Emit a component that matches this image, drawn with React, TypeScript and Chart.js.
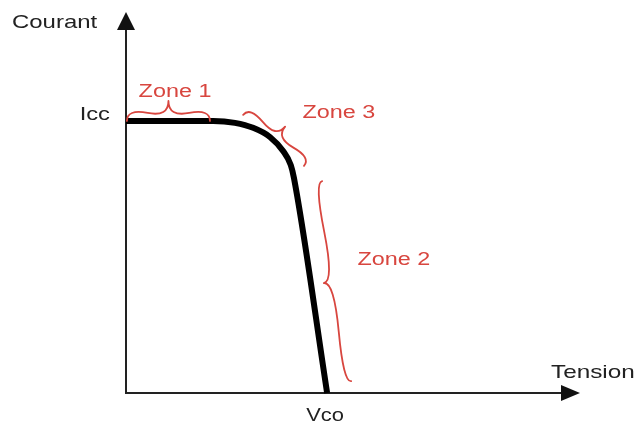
import React, { useEffect, useRef } from "react";
import { Chart, registerables } from "chart.js";

Chart.register(...registerables);

// I-V curve (schematic units)
const voltage = [0, 19.2, 24.0, 28.0, 31.7, 34.6, 36.3, 37.0, 44.3];
const current = [71.4, 71.4, 70.9, 69.6, 67.2, 63.5, 59.8, 56.4, 0];

// Characteristic values and labels
const ICC = 71.4;
const VCO = 44.3;
const yTickLabel = "Icc";
const xTickLabel = "Vco";
const yAxisTitle = "Courant";
const xAxisTitle = "Tension";

// Zone annotations (data units): brace start, brace end, label anchor
const zoneNames = ["Zone 1", "Zone 3", "Zone 2"];
const zoneStart = [
  [0.2, 71.4],
  [25.8, 73.0],
  [43.2, 55.6],
];
const zoneEnd = [
  [18.5, 71.4],
  [39.2, 59.6],
  [49.6, 3.1],
];
const zoneLabelAt = [
  [10.8, 79.0],
  [46.9, 73.5],
  [59.0, 34.9],
];

const AXIS_COLOR = "#222";
const RED = "#d8463f";
const FONT = '"Liberation Sans", Arial, sans-serif';

function stretchText(
  ctx: CanvasRenderingContext2D,
  text: string,
  x: number,
  y: number,
  align: CanvasTextAlign,
  sx: number
) {
  ctx.save();
  ctx.translate(x, y);
  ctx.scale(sx, 1);
  ctx.textAlign = align;
  ctx.textBaseline = "middle";
  ctx.fillText(text, 0, 0);
  ctx.restore();
}

function brace(
  ctx: CanvasRenderingContext2D,
  x1: number,
  y1: number,
  x2: number,
  y2: number,
  w: number,
  q = 0.6
) {
  let dx = x1 - x2;
  let dy = y1 - y2;
  const len = Math.sqrt(dx * dx + dy * dy);
  dx /= len;
  dy /= len;
  const qx1 = x1 + q * w * dy;
  const qy1 = y1 - q * w * dx;
  const qx2 = x1 - 0.25 * len * dx + (1 - q) * w * dy;
  const qy2 = y1 - 0.25 * len * dy - (1 - q) * w * dx;
  const tx1 = x1 - 0.5 * len * dx + w * dy;
  const ty1 = y1 - 0.5 * len * dy - w * dx;
  const qx3 = x2 + q * w * dy;
  const qy3 = y2 - q * w * dx;
  const qx4 = x1 - 0.75 * len * dx + (1 - q) * w * dy;
  const qy4 = y1 - 0.75 * len * dy - (1 - q) * w * dx;
  const c1x = 2 * qx2 - qx1;
  const c1y = 2 * qy2 - qy1;
  const c2x = 2 * qx4 - qx3;
  const c2y = 2 * qy4 - qy3;
  ctx.beginPath();
  ctx.moveTo(x1, y1);
  ctx.quadraticCurveTo(qx1, qy1, qx2, qy2);
  ctx.quadraticCurveTo(c1x, c1y, tx1, ty1);
  ctx.moveTo(x2, y2);
  ctx.quadraticCurveTo(qx3, qy3, qx4, qy4);
  ctx.quadraticCurveTo(c2x, c2y, tx1, ty1);
  ctx.stroke();
}

const braceDepth = [-20, -18, 13];

const decorPlugin = {
  id: "decor",
  beforeDatasetsDraw(chart: any) {
    const ctx: CanvasRenderingContext2D = chart.ctx;
    const xs = chart.scales.x;
    const ys = chart.scales.y;
    const x0 = xs.getPixelForValue(0);
    const y0 = ys.getPixelForValue(0);
    const xMax = xs.getPixelForValue(xs.max);
    const yMax = ys.getPixelForValue(ys.max);
    ctx.save();
    ctx.strokeStyle = AXIS_COLOR;
    ctx.fillStyle = "#111";
    ctx.lineWidth = 2;
    ctx.beginPath();
    ctx.moveTo(x0, y0 + 1);
    ctx.lineTo(x0, yMax + 12);
    ctx.stroke();
    ctx.beginPath();
    ctx.moveTo(x0, yMax);
    ctx.lineTo(x0 - 9, yMax + 18);
    ctx.lineTo(x0 + 9, yMax + 18);
    ctx.closePath();
    ctx.fill();
    ctx.beginPath();
    ctx.moveTo(x0 - 1, y0);
    ctx.lineTo(xMax - 12, y0);
    ctx.stroke();
    ctx.beginPath();
    ctx.moveTo(xMax, y0);
    ctx.lineTo(xMax - 19, y0 - 8);
    ctx.lineTo(xMax - 19, y0 + 8);
    ctx.closePath();
    ctx.fill();

    ctx.fillStyle = AXIS_COLOR;
    ctx.font = `19px ${FONT}`;
    stretchText(ctx, yAxisTitle, 12, 23, "left", 1.26);
    stretchText(ctx, xAxisTitle, 551, 373, "left", 1.28);
    ctx.font = `18px ${FONT}`;
    stretchText(ctx, yTickLabel, x0 - 16, ys.getPixelForValue(ICC) - 6, "right", 1.32);
    stretchText(ctx, xTickLabel, xs.getPixelForValue(VCO) - 2, y0 + 23, "center", 1.22);
    ctx.restore();
  },
  afterDatasetsDraw(chart: any) {
    const ctx: CanvasRenderingContext2D = chart.ctx;
    const xs = chart.scales.x;
    const ys = chart.scales.y;
    ctx.save();
    ctx.strokeStyle = RED;
    ctx.fillStyle = RED;
    ctx.lineWidth = 1.8;
    ctx.lineCap = "round";
    ctx.lineJoin = "round";
    ctx.font = `18px ${FONT}`;
    zoneNames.forEach((name, i) => {
      brace(
        ctx,
        xs.getPixelForValue(zoneStart[i][0]),
        ys.getPixelForValue(zoneStart[i][1]),
        xs.getPixelForValue(zoneEnd[i][0]),
        ys.getPixelForValue(zoneEnd[i][1]),
        braceDepth[i]
      );
      stretchText(
        ctx,
        name,
        xs.getPixelForValue(zoneLabelAt[i][0]),
        ys.getPixelForValue(zoneLabelAt[i][1]),
        "center",
        1.3
      );
    });
    ctx.restore();
  },
};

export default function App() {
  const canvasRef = useRef<HTMLCanvasElement | null>(null);
  useEffect(() => {
    if (!canvasRef.current) return;
    const chart = new Chart(canvasRef.current, {
      type: "scatter",
      data: {
        datasets: [
          {
            data: voltage.map((v, i) => ({ x: v, y: current[i] })),
            showLine: true,
            borderColor: "#000",
            borderWidth: 6,
            pointRadius: 0,
            cubicInterpolationMode: "monotone",
            borderCapStyle: "butt",
            borderJoinStyle: "round",
            clip: false,
          } as any,
        ],
      },
      options: {
        animation: false,
        responsive: false,
        events: [],
        layout: { padding: { left: 126, right: 56, top: 12, bottom: 33 } },
        scales: {
          x: { type: "linear", min: 0, max: 100, display: false },
          y: { type: "linear", min: 0, max: 100, display: false },
        },
        plugins: { legend: { display: false }, tooltip: { enabled: false } },
      },
      plugins: [decorPlugin],
    });
    return () => chart.destroy();
  }, []);
  return (
    <div style={{ position: "fixed", left: 0, top: 0, width: 636, height: 426, background: "#fff" }}>
      <canvas ref={canvasRef} width={636} height={426} />
    </div>
  );
}
